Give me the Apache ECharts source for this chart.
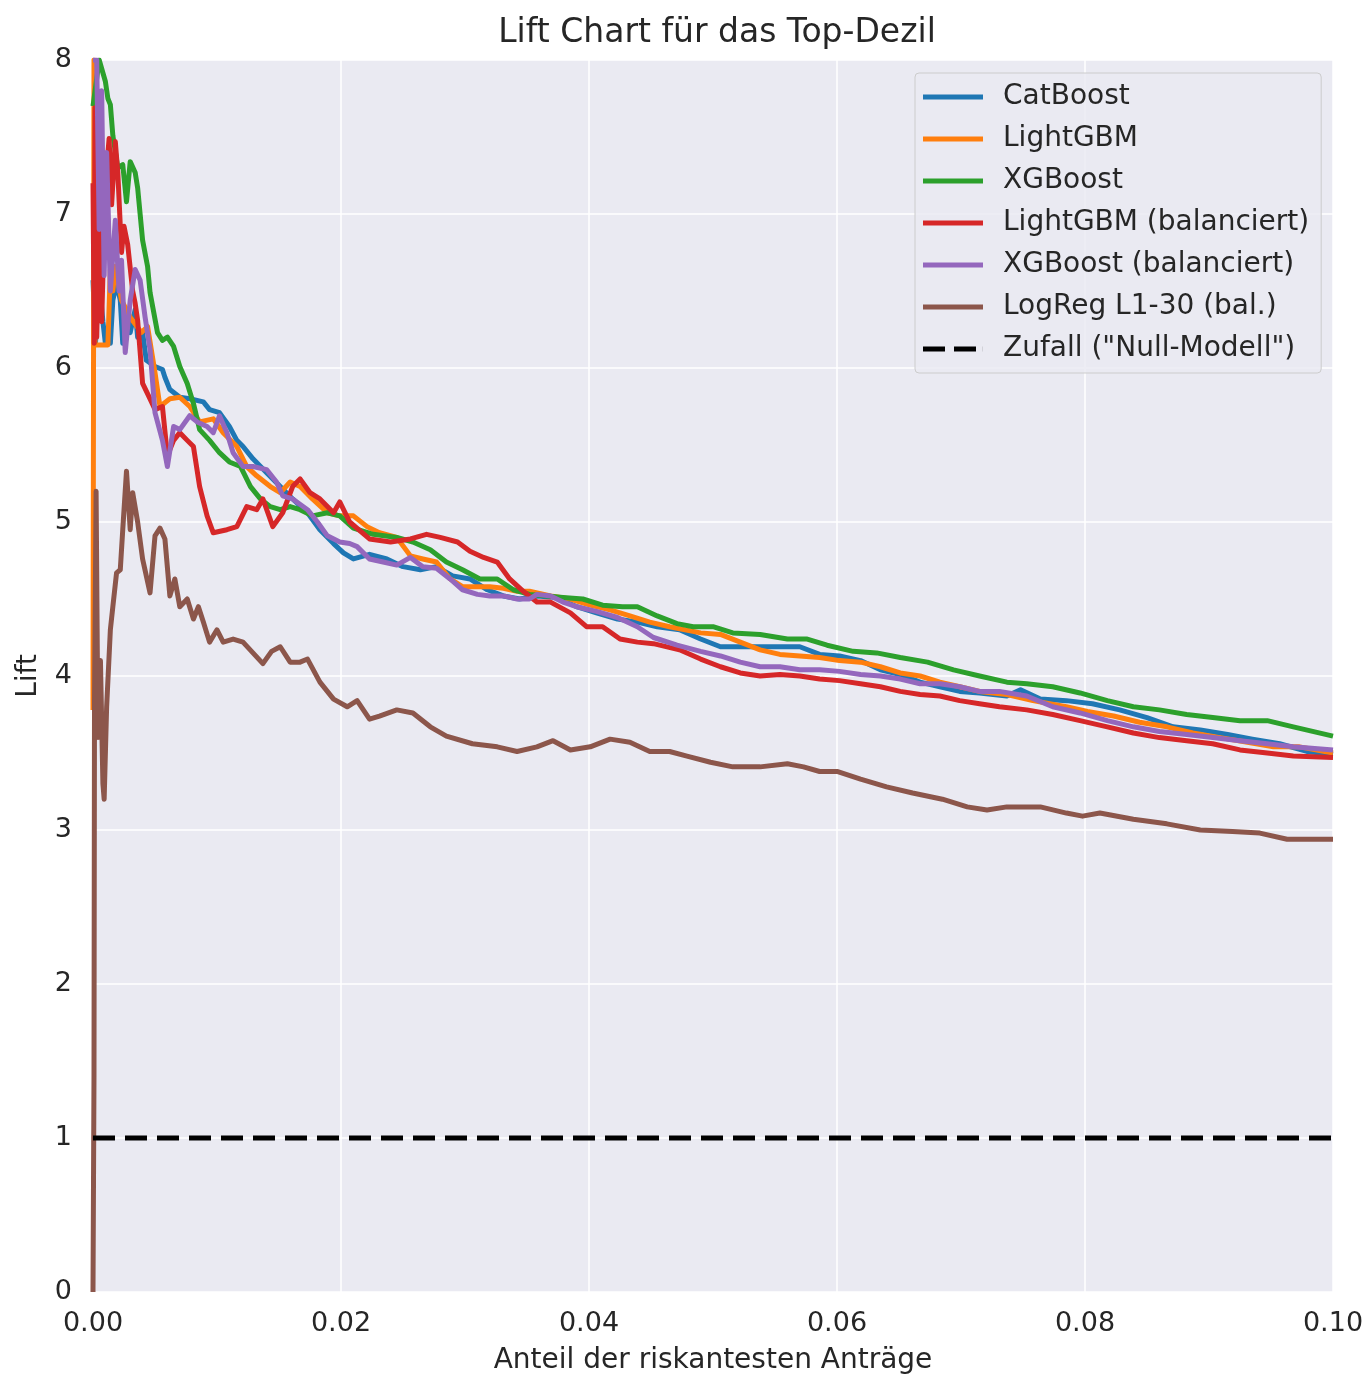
<!DOCTYPE html>
<html>
<head>
<meta charset="utf-8">
<script src="https://cdn.jsdelivr.net/npm/echarts@6/dist/echarts.min.js"></script>
<style>
html,body{margin:0;padding:0;background:#ffffff;}
#chart{width:1369px;height:1380px;}
</style>
</head>
<body>
<div id="chart"></div>
<script>
// ---- data: [share of riskiest applications, lift] ----
const seriesNames = ["CatBoost", "LightGBM", "XGBoost", "LightGBM (balanciert)", "XGBoost (balanciert)", "LogReg L1-30 (bal.)", "Zufall (\"Null-Modell\")"];
const xTicks = [0, 0.02, 0.04, 0.06, 0.08, 0.10];
const yTicks = [0, 1, 2, 3, 4, 5, 6, 7, 8];

const catboost = [[0,6.57],[0.0002,6.16],[0.0005,6.57],[0.0008,6.3],[0.001,6.16],[0.0014,6.16],[0.0016,6.44],[0.0019,6.55],[0.0022,6.44],[0.0024,6.16],[0.0028,6.25],[0.003,6.23],[0.0034,6.38],[0.0036,6.2],[0.004,6.23],[0.0043,6.05],[0.005,6.01],[0.0056,5.99],[0.0058,5.94],[0.0062,5.86],[0.007,5.81],[0.0078,5.8],[0.0089,5.78],[0.0094,5.73],[0.0102,5.71],[0.011,5.62],[0.0116,5.53],[0.0121,5.49],[0.0129,5.41],[0.014,5.32],[0.0151,5.23],[0.0161,5.15],[0.0173,5.06],[0.0183,4.95],[0.0194,4.86],[0.0202,4.8],[0.021,4.76],[0.0223,4.79],[0.0237,4.76],[0.025,4.71],[0.0264,4.69],[0.0277,4.71],[0.029,4.65],[0.0304,4.63],[0.0318,4.56],[0.0331,4.52],[0.0344,4.5],[0.0358,4.52],[0.0374,4.51],[0.039,4.45],[0.0406,4.41],[0.0423,4.37],[0.0439,4.35],[0.0455,4.32],[0.0473,4.3],[0.049,4.24],[0.0506,4.19],[0.0522,4.19],[0.0538,4.19],[0.0554,4.19],[0.057,4.19],[0.0586,4.14],[0.0602,4.13],[0.0619,4.1],[0.0635,4.04],[0.0651,4.01],[0.0667,3.96],[0.0683,3.93],[0.0699,3.9],[0.0715,3.89],[0.0737,3.87],[0.0748,3.91],[0.0764,3.85],[0.0785,3.84],[0.0806,3.82],[0.0828,3.78],[0.085,3.73],[0.0871,3.67],[0.0893,3.65],[0.0915,3.62],[0.0935,3.59],[0.0957,3.56],[0.0979,3.51],[0.1,3.49]];

const lightgbm = [[0,3.78],[0.00008,8.0],[0.00016,6.15],[0.0012,6.15],[0.0014,6.64],[0.0016,6.5],[0.0018,6.66],[0.0023,6.44],[0.003,6.33],[0.0039,6.23],[0.0044,6.27],[0.005,5.97],[0.0054,5.75],[0.0062,5.8],[0.007,5.81],[0.0078,5.75],[0.0086,5.65],[0.0097,5.67],[0.0105,5.58],[0.0116,5.49],[0.0124,5.36],[0.0132,5.3],[0.0143,5.23],[0.0151,5.19],[0.0159,5.26],[0.0167,5.23],[0.0177,5.15],[0.0189,5.06],[0.0199,5.04],[0.021,5.04],[0.0221,4.97],[0.0231,4.93],[0.0245,4.9],[0.0256,4.78],[0.0266,4.76],[0.0277,4.74],[0.0288,4.63],[0.0298,4.58],[0.031,4.58],[0.032,4.58],[0.0331,4.57],[0.0342,4.55],[0.0352,4.55],[0.0369,4.52],[0.0385,4.5],[0.0401,4.46],[0.0417,4.43],[0.0433,4.39],[0.0449,4.35],[0.0465,4.32],[0.049,4.28],[0.0506,4.27],[0.0522,4.22],[0.0538,4.17],[0.0554,4.14],[0.057,4.13],[0.0586,4.12],[0.0602,4.1],[0.0619,4.09],[0.0635,4.06],[0.0651,4.02],[0.0667,4.0],[0.0683,3.96],[0.0699,3.93],[0.0715,3.9],[0.0737,3.88],[0.0758,3.84],[0.0785,3.8],[0.0802,3.77],[0.0823,3.74],[0.0844,3.7],[0.0866,3.67],[0.0887,3.63],[0.0909,3.6],[0.0931,3.57],[0.0952,3.54],[0.0973,3.54],[0.1,3.5]];

const xgboost = [[0,7.7],[0.0005,8.0],[0.001,7.86],[0.0012,7.75],[0.0014,7.71],[0.0016,7.51],[0.002,7.3],[0.0024,7.32],[0.0027,7.08],[0.003,7.34],[0.0034,7.27],[0.0036,7.17],[0.0038,7.0],[0.004,6.83],[0.0044,6.66],[0.0046,6.49],[0.0052,6.23],[0.0056,6.18],[0.006,6.2],[0.0065,6.14],[0.007,6.01],[0.0076,5.9],[0.0081,5.77],[0.0086,5.6],[0.0094,5.53],[0.0102,5.45],[0.011,5.39],[0.0119,5.36],[0.0127,5.23],[0.0135,5.15],[0.0143,5.1],[0.0151,5.08],[0.0159,5.1],[0.0167,5.08],[0.0177,5.04],[0.0189,5.06],[0.0199,5.04],[0.021,4.96],[0.0226,4.92],[0.0245,4.9],[0.0258,4.87],[0.0272,4.82],[0.0285,4.74],[0.0298,4.69],[0.0312,4.63],[0.0326,4.63],[0.0339,4.56],[0.0352,4.53],[0.0366,4.52],[0.0379,4.51],[0.0395,4.5],[0.0411,4.46],[0.0427,4.45],[0.0439,4.45],[0.0455,4.39],[0.0471,4.34],[0.0484,4.32],[0.05,4.32],[0.0516,4.28],[0.0538,4.27],[0.056,4.24],[0.0576,4.24],[0.0592,4.2],[0.0613,4.16],[0.0632,4.15],[0.0651,4.12],[0.0673,4.09],[0.0694,4.04],[0.0715,4.0],[0.0737,3.96],[0.0753,3.95],[0.0774,3.93],[0.0796,3.89],[0.0818,3.84],[0.0839,3.8],[0.086,3.78],[0.0882,3.75],[0.0903,3.73],[0.0925,3.71],[0.0947,3.71],[0.0968,3.67],[0.1,3.61]];

const lightgbmBal = [[0,7.2],[0.0001,6.16],[0.00016,7.69],[0.0003,6.2],[0.0005,6.96],[0.0007,6.3],[0.001,7.2],[0.0013,7.49],[0.0015,7.06],[0.0018,7.47],[0.002,7.27],[0.0023,6.75],[0.0025,6.92],[0.0028,6.8],[0.0032,6.5],[0.0034,6.42],[0.0036,6.31],[0.004,5.9],[0.0046,5.8],[0.005,5.73],[0.0056,5.75],[0.006,5.43],[0.0065,5.53],[0.007,5.58],[0.0076,5.53],[0.0081,5.49],[0.0086,5.23],[0.0092,5.04],[0.0097,4.93],[0.0108,4.95],[0.0116,4.97],[0.0124,5.1],[0.0132,5.08],[0.0137,5.15],[0.0145,4.97],[0.0153,5.06],[0.0161,5.23],[0.0167,5.28],[0.0175,5.19],[0.0183,5.15],[0.0194,5.06],[0.0199,5.13],[0.0207,5.0],[0.0223,4.89],[0.024,4.87],[0.0256,4.89],[0.0269,4.92],[0.028,4.9],[0.0294,4.87],[0.0304,4.81],[0.0315,4.77],[0.0326,4.74],[0.0336,4.63],[0.0347,4.55],[0.0358,4.48],[0.0369,4.48],[0.0385,4.41],[0.0398,4.32],[0.0411,4.32],[0.0425,4.24],[0.0439,4.22],[0.0452,4.21],[0.0473,4.17],[0.049,4.11],[0.0506,4.06],[0.0522,4.02],[0.0538,4.0],[0.0554,4.01],[0.057,4.0],[0.0586,3.98],[0.0602,3.97],[0.0619,3.95],[0.0635,3.93],[0.0651,3.9],[0.0667,3.88],[0.0683,3.87],[0.0699,3.84],[0.0715,3.82],[0.0731,3.8],[0.0753,3.78],[0.0774,3.75],[0.0796,3.71],[0.0818,3.67],[0.0839,3.63],[0.086,3.6],[0.0882,3.58],[0.0903,3.56],[0.0925,3.52],[0.0947,3.5],[0.0968,3.48],[0.1,3.47]];

const xgboostBal = [[0,8.0],[0.0003,8.0],[0.0005,6.9],[0.0007,7.8],[0.0009,6.6],[0.0011,7.4],[0.0014,6.5],[0.0018,6.96],[0.0021,6.5],[0.0023,6.7],[0.0026,6.1],[0.003,6.44],[0.0034,6.64],[0.0038,6.57],[0.0042,6.33],[0.0046,6.12],[0.005,5.71],[0.0056,5.53],[0.006,5.36],[0.0065,5.62],[0.007,5.6],[0.0078,5.69],[0.0084,5.65],[0.0092,5.62],[0.0097,5.58],[0.0102,5.69],[0.0108,5.58],[0.0113,5.45],[0.0121,5.36],[0.0129,5.36],[0.014,5.34],[0.0148,5.26],[0.0153,5.17],[0.0161,5.15],[0.0173,5.08],[0.0181,5.0],[0.0189,4.91],[0.0199,4.87],[0.0207,4.86],[0.0213,4.84],[0.0223,4.76],[0.0234,4.74],[0.0245,4.72],[0.0256,4.77],[0.0266,4.71],[0.0277,4.7],[0.0288,4.63],[0.0298,4.56],[0.031,4.53],[0.032,4.52],[0.0331,4.52],[0.0342,4.5],[0.0352,4.5],[0.0358,4.53],[0.0369,4.52],[0.0379,4.48],[0.039,4.45],[0.0406,4.42],[0.0423,4.38],[0.0439,4.32],[0.0452,4.25],[0.0471,4.2],[0.049,4.16],[0.0506,4.13],[0.0522,4.09],[0.0538,4.06],[0.0554,4.06],[0.057,4.04],[0.0586,4.04],[0.0602,4.03],[0.0619,4.01],[0.0635,4.0],[0.0651,3.98],[0.0667,3.95],[0.0683,3.95],[0.0699,3.93],[0.0715,3.9],[0.0731,3.9],[0.0753,3.87],[0.0774,3.8],[0.0796,3.76],[0.0818,3.71],[0.0839,3.67],[0.086,3.64],[0.0882,3.62],[0.0903,3.6],[0.0925,3.58],[0.0947,3.56],[0.0968,3.54],[0.1,3.52]];

const logreg = [[0,0],[0.00008,1.4],[0.00012,3.8],[0.00025,5.2],[0.0004,3.6],[0.0006,4.1],[0.0008,3.3],[0.0009,3.2],[0.0011,3.8],[0.0014,4.3],[0.0016,4.45],[0.0019,4.67],[0.0022,4.69],[0.0024,4.95],[0.0027,5.33],[0.003,4.95],[0.0032,5.19],[0.0036,5.0],[0.004,4.76],[0.0046,4.54],[0.005,4.91],[0.0054,4.96],[0.0058,4.89],[0.0062,4.52],[0.0066,4.63],[0.007,4.45],[0.0076,4.5],[0.0081,4.37],[0.0085,4.45],[0.0089,4.35],[0.0094,4.22],[0.01,4.3],[0.0105,4.22],[0.0113,4.24],[0.0121,4.22],[0.0129,4.15],[0.0137,4.08],[0.0144,4.16],[0.0151,4.19],[0.0159,4.09],[0.0167,4.09],[0.0173,4.11],[0.0183,3.96],[0.0194,3.85],[0.0205,3.8],[0.0213,3.84],[0.0223,3.72],[0.0231,3.74],[0.0245,3.78],[0.0258,3.76],[0.0272,3.67],[0.0285,3.61],[0.0306,3.56],[0.0326,3.54],[0.0342,3.51],[0.0358,3.54],[0.0371,3.58],[0.0385,3.52],[0.0401,3.54],[0.0417,3.59],[0.0433,3.57],[0.0449,3.51],[0.0465,3.51],[0.0479,3.48],[0.0498,3.44],[0.0516,3.41],[0.0538,3.41],[0.056,3.43],[0.0573,3.41],[0.0586,3.38],[0.06,3.38],[0.0619,3.33],[0.064,3.28],[0.0661,3.24],[0.0685,3.2],[0.0705,3.15],[0.0721,3.13],[0.0737,3.15],[0.0764,3.15],[0.0785,3.11],[0.0798,3.09],[0.0812,3.11],[0.0839,3.07],[0.0866,3.04],[0.0893,3.0],[0.0919,2.99],[0.0941,2.98],[0.0963,2.94],[0.1,2.94]];

const nullModel = [[0,1],[0.1,1]];

const colors = ["#1f77b4", "#ff7f0e", "#2ca02c", "#d62728", "#9467bd", "#8c564b", "#000000"];
const seriesData = [catboost, lightgbm, xgboost, lightgbmBal, xgboostBal, logreg, nullModel];

const FONT = "DejaVu Sans";
const TXT = "#262626";
const solidIcon = 'path://M0,0 H60 V5 H0 Z';
const dashIcon = 'path://M0,0 H22 V5 H0 Z M31,0 H53 V5 H31 Z M59.9,0 H60 V5 H59.9 Z';

const chart = echarts.init(document.getElementById('chart'), null, {renderer: 'canvas'});

const series = seriesData.map((d, i) => ({
  name: seriesNames[i],
  type: 'line',
  data: d,
  symbol: 'none',
  showSymbol: false,
  clip: true,
  animation: false,
  z: 2 + i,
  lineStyle: {
    color: colors[i],
    width: 5,
    type: i === 6 ? [22, 10] : 'solid',
    cap: 'butt',
    join: 'round'
  },
  itemStyle: {color: colors[i]}
}));

chart.setOption({
  animation: false,
  backgroundColor: '#ffffff',
  color: colors,
  title: {
    text: 'Lift Chart für das Top-Dezil',
    left: 712,
    textAlign: 'center',
    top: 12,
    textStyle: {fontFamily: FONT, fontSize: 33, fontWeight: 'normal', color: TXT}
  },
  grid: {
    left: 93, right: 36, top: 60, bottom: 87,
    show: true,
    backgroundColor: '#EAEAF2',
    borderWidth: 0
  },
  legend: {
    data: seriesNames.map((n, i) => ({name: n, icon: i === 6 ? dashIcon : solidIcon})),
    orient: 'vertical',
    left: 915,
    top: 73,
    padding: [9, 12, 9, 8],
    itemWidth: 60,
    itemHeight: 5,
    itemGap: 12,
    backgroundColor: 'rgba(234,234,242,0.85)',
    borderColor: '#cccccc',
    borderWidth: 1,
    borderRadius: 4,
    textStyle: {fontFamily: FONT, fontSize: 28, color: TXT, lineHeight: 30, padding: [0, 0, 0, 15]}
  },
  xAxis: {
    type: 'value',
    min: 0, max: 0.1, interval: 0.02,
    name: 'Anteil der riskantesten Anträge',
    nameLocation: 'middle',
    nameGap: 55,
    nameTextStyle: {fontFamily: FONT, fontSize: 28, color: TXT},
    axisLine: {show: false},
    axisTick: {show: false},
    axisLabel: {
      margin: 18, fontFamily: FONT, fontSize: 27, color: TXT,
      formatter: v => v.toFixed(2)
    },
    splitLine: {show: true, lineStyle: {color: '#ffffff', width: 1.5}}
  },
  yAxis: {
    type: 'value',
    min: 0, max: 8, interval: 1,
    name: 'Lift',
    nameLocation: 'middle',
    nameGap: 50,
    nameTextStyle: {fontFamily: FONT, fontSize: 28, color: TXT},
    axisLine: {show: false},
    axisTick: {show: false},
    axisLabel: {margin: 21, fontFamily: FONT, fontSize: 27, color: TXT},
    splitLine: {show: true, lineStyle: {color: '#ffffff', width: 1.5}}
  },
  series: series
});
</script>
</body>
</html>
